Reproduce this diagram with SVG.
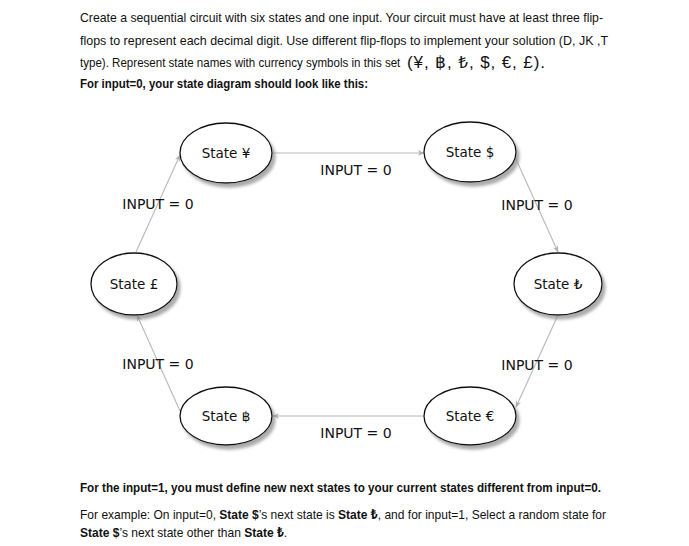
<svg xmlns="http://www.w3.org/2000/svg" width="689" height="546" viewBox="0 0 689 546">
<style>
.hd{font-family:"Liberation Sans","Noto Sans",sans-serif;font-size:13.6px;fill:#111}
.b{font-weight:bold}
.sym{font-size:17px}
.st{font-family:"DejaVu Sans","Noto Sans",sans-serif;font-size:13.5px;fill:#111;text-anchor:middle}
.lb{font-family:"DejaVu Sans","Noto Sans",sans-serif;font-size:14px;fill:#111;text-anchor:middle}
.node ellipse{fill:#fff;stroke:#111;stroke-width:1.3;filter:url(#sh)}
.edge{stroke:#b8b8b8;stroke-width:1.1;fill:none;marker-end:url(#ah)}
</style>
<defs>
<filter id="sh" x="-20%" y="-20%" width="150%" height="160%">
<feDropShadow dx="3" dy="4" stdDeviation="1.6" flood-color="#888" flood-opacity="0.7"/>
</filter>
<marker id="ah" viewBox="0 0 10 10" refX="9" refY="5" markerWidth="7" markerHeight="7" orient="auto" markerUnits="userSpaceOnUse">
<path d="M0,1 L10,5 L0,9 L3,5 Z" fill="#b0b0b0"/>
</marker>
</defs>
<rect width="689" height="546" fill="#fff"/>

<g id="header">
<text class="hd" x="80" y="22" textLength="523" lengthAdjust="spacingAndGlyphs">Create a sequential circuit with six states and one input. Your circuit must have at least three flip-</text>
<text class="hd" x="80" y="45" textLength="528" lengthAdjust="spacingAndGlyphs">flops to represent each decimal digit. Use different flip-flops to implement your solution (D, JK ,T</text>
<text class="hd" transform="translate(80,67) scale(0.85,1)" x="0" y="0">type). Represent state names with currency symbols in this set</text>
<text class="hd sym" x="407" y="68" textLength="138" lengthAdjust="spacing">(¥, ฿, ₺, $, €, £).</text>
<text class="hd b" x="80" y="88" textLength="288" lengthAdjust="spacingAndGlyphs">For input=0, your state diagram should look like this:</text>
</g>

<g id="connectors">
<line class="edge" x1="272" y1="153" x2="424" y2="153"/>
<line class="edge" x1="515" y1="157" x2="558" y2="252"/>
<line class="edge" x1="558" y1="315" x2="516" y2="407"/>
<line class="edge" x1="423" y1="416" x2="273" y2="416"/>
<line class="edge" x1="180" y1="411" x2="137" y2="315"/>
<line class="edge" x1="136" y1="252" x2="180" y2="155"/>
<text class="lb" x="356" y="175">INPUT = 0</text>
<text class="lb" x="537" y="210">INPUT = 0</text>
<text class="lb" x="537" y="370">INPUT = 0</text>
<text class="lb" x="356" y="438">INPUT = 0</text>
<text class="lb" x="158" y="369">INPUT = 0</text>
<text class="lb" x="158" y="209">INPUT = 0</text>
</g>

<g id="state-yen" class="node"><ellipse cx="226" cy="153" rx="46" ry="30"/><text class="st" x="226" y="158">State ¥</text></g>
<g id="state-dollar" class="node"><ellipse cx="470" cy="152" rx="46" ry="30"/><text class="st" x="470" y="157">State $</text></g>
<g id="state-lira" class="node"><ellipse cx="558" cy="284" rx="44" ry="31"/><text class="st" x="558" y="289">State ₺</text></g>
<g id="state-euro" class="node"><ellipse cx="470" cy="416" rx="46" ry="29"/><text class="st" x="470" y="421">State €</text></g>
<g id="state-baht" class="node"><ellipse cx="226" cy="416" rx="46" ry="29"/><text class="st" x="226" y="421">State ฿</text></g>
<g id="state-pound" class="node"><ellipse cx="134" cy="284" rx="43" ry="31"/><text class="st" x="134" y="289">State £</text></g>

<g id="footer">
<text class="hd b" x="80" y="492" textLength="521" lengthAdjust="spacingAndGlyphs">For the input=1, you must define new next states to your current states different from input=0.</text>
<text class="hd" transform="translate(80,519) scale(0.885,1)" x="0" y="0">For example: On input=0, <tspan class="b">State $</tspan>’s next state is <tspan class="b">State ₺</tspan>, and for input=1, Select a random state for</text>
<text class="hd" transform="translate(80,537) scale(0.885,1)" x="0" y="0"><tspan class="b">State $</tspan>’s next state other than <tspan class="b">State ₺</tspan>.</text>
</g>
</svg>
